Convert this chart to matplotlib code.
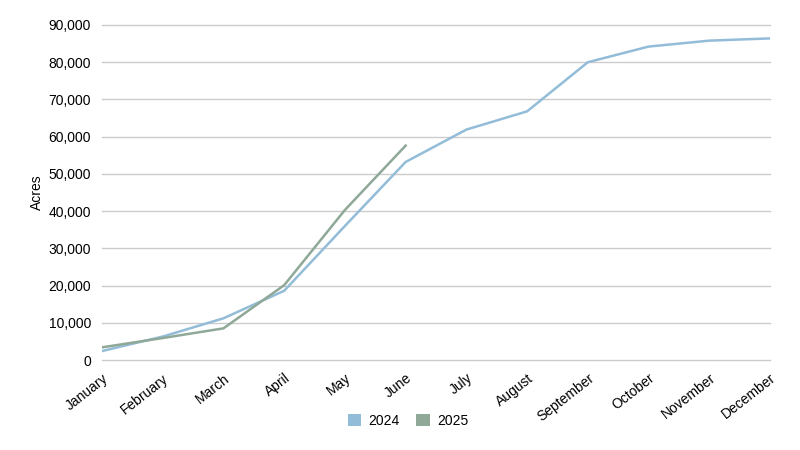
import matplotlib
matplotlib.use("Agg")
import matplotlib.pyplot as plt
from matplotlib.patches import Patch
from matplotlib.ticker import FuncFormatter

months = ["January", "February", "March", "April", "May", "June", "July",
          "August", "September", "October", "November", "December"]
acres_2024 = [2400, 6300, 11200, 18600, 36000, 53200, 61900, 66800,
              80000, 84200, 85800, 86400]
acres_2025 = [3400, 5900, 8500, 20100, 40300, 57600]
y_ticks = [0, 10000, 20000, 30000, 40000, 50000, 60000, 70000, 80000, 90000]

blue = "#93bcd8"
green = "#8fa898"

plt.rcParams["font.family"] = ["Liberation Sans", "DejaVu Sans"]

fig = plt.figure(figsize=(8, 4.5), dpi=100)
ax = fig.add_axes([102 / 800, 1 - 360 / 450, 668 / 800, 335 / 450])

ax.plot(range(len(acres_2024)), acres_2024, color=blue, lw=1.8, zorder=3)
ax.plot(range(len(acres_2025)), acres_2025, color=green, lw=1.8, zorder=3)

ax.set_xlim(0, len(months) - 1)
ax.set_ylim(0, 90000)
ax.set_yticks(y_ticks)
ax.yaxis.set_major_formatter(FuncFormatter(lambda v, p: f"{int(v):,}"))
ax.set_xticks(range(len(months)))
ax.set_xticklabels(months, rotation=38, ha="right", rotation_mode="anchor")
ax.tick_params(axis="x", length=0, pad=8, labelsize=10)
ax.tick_params(axis="y", length=0, pad=8, labelsize=10)
ax.grid(axis="y", color="#cccccc", lw=1)
for gl in ax.get_ygridlines():
    gl.set_clip_on(False)
ax.set_axisbelow(True)
for s in ax.spines.values():
    s.set_visible(False)
ax.set_ylabel("Acres", fontsize=10, labelpad=3)

handles = [Patch(facecolor=blue, label="2024"), Patch(facecolor=green, label="2025")]
fig.legend(handles=handles, loc="center", bbox_to_anchor=(0.51, 1 - 421 / 450),
           ncol=2, frameon=False, fontsize=10, handlelength=1.0, handleheight=1.0,
           columnspacing=1.2, handletextpad=0.5)

fig.savefig("out.png", dpi=100)
